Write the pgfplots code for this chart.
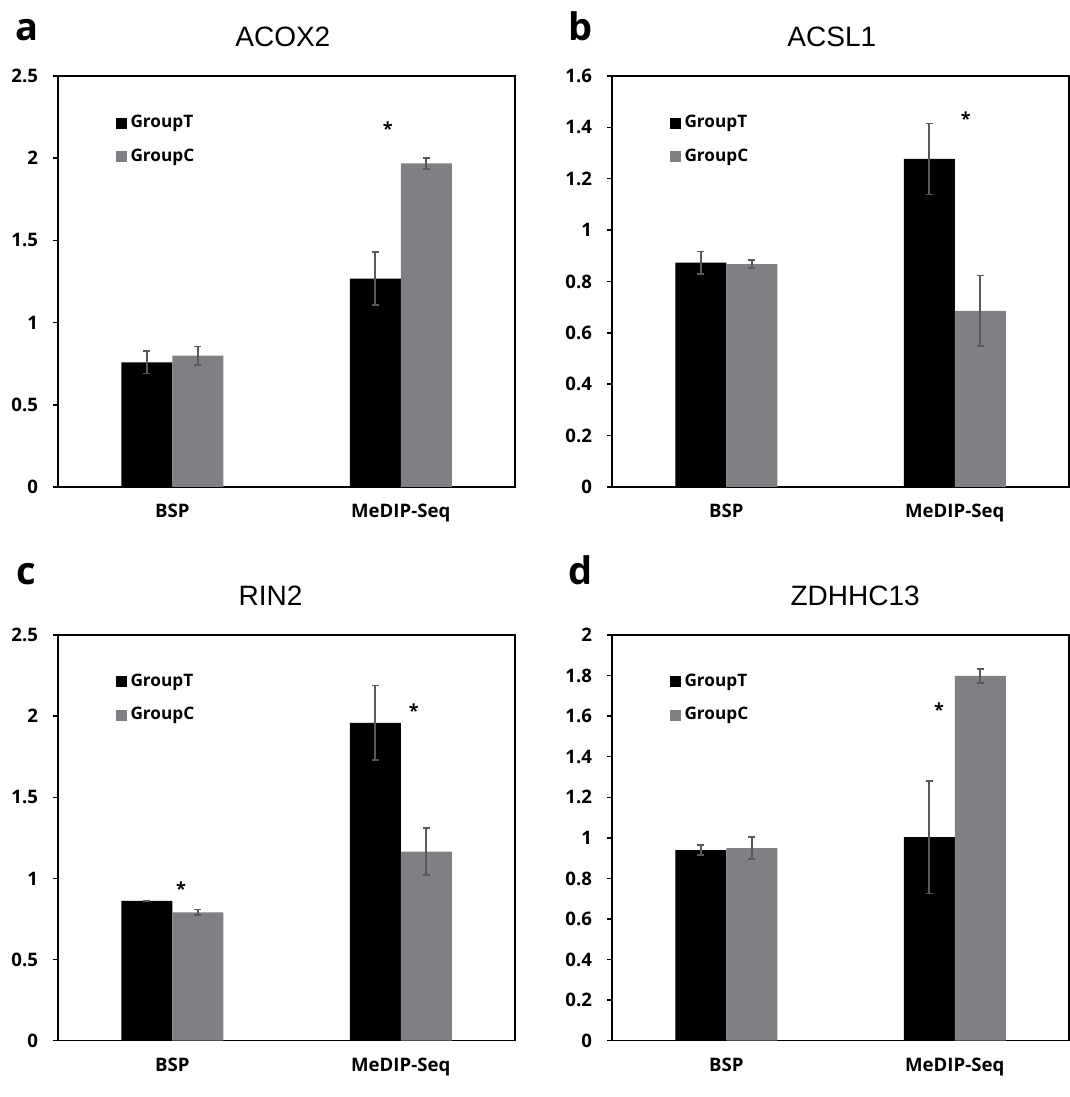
\documentclass[border=0pt]{standalone}
\usepackage{pgfplots}
\usepackage{pgfplotstable}
\pgfplotsset{compat=1.18}
\usepackage{fontspec}
\setmainfont{Open Sans}
\newfontfamily\arialfont{Liberation Sans}

\definecolor{grpC}{RGB}{128,128,132}
\definecolor{errc}{RGB}{89,89,89}

% mean and standard error for each gene
\pgfplotstableread{
x T Te C Ce
0 0.758 0.068 0.799 0.055
1 1.267 0.160 1.969 0.033
}\acoxtwo
\pgfplotstableread{
x T Te C Ce
0 0.873 0.044 0.868 0.016
1 1.277 0.138 0.686 0.137
}\acslone
\pgfplotstableread{
x T Te C Ce
0 0.861 0.003 0.791 0.017
1 1.959 0.230 1.165 0.146
}\rintwo
\pgfplotstableread{
x T Te C Ce
0 0.940 0.025 0.949 0.055
1 1.004 0.278 1.798 0.035
}\zdhhc

\tikzset{
  sigstar/.style={font=\bfseries\fontsize{9}{10}\selectfont},
  plabel/.style={anchor=base west, font=\bfseries\fontsize{19}{22}\selectfont, inner sep=0pt},
  gene/.style={anchor=base, inner sep=0pt, yshift=14.6pt, font=\arialfont\fontsize{14}{16}\selectfont},
}

\pgfplotsset{
  panel/.style={
    scale only axis, width=228.5pt, anchor=south west, clip=false,
    ybar=0pt, bar width=25.5pt,
    xmin=-0.5, xmax=1.5, xtick={0,1}, xticklabels={BSP,MeDIP-Seq},
    ymin=0,
    axis line style={line width=0.75pt},
    tick align=outside, ytick pos=left, xtick pos=bottom,
    major tick length=2.5pt,
    xtick style={draw=none},
    ytick style={line width=0.75pt, black},
    /pgf/number format/assume math mode=true,
    /pgf/number format/fixed,
    tick label style={font=\bfseries\fontsize{9.3}{11}\selectfont},
    yticklabel style={xshift=-4pt},
    xticklabel style={anchor=base, yshift=-13pt},
    legend style={draw=none, fill=none, at={(rel axis cs:0.125,0.915)}, anchor=north west,
      font=\bfseries\fontsize{8.6}{10}\selectfont, row sep=5pt, inner sep=0pt},
    legend cell align=left,
  },
  barT/.style={fill=black, draw=none,
    legend image code/.code={\fill[black] (0pt,-2.75pt) rectangle (5.5pt,2.75pt);},
    error bars/.cd, y dir=both, y explicit,
    error bar style={line width=0.9pt, color=errc},
    error mark options={rotate=90, mark size=1.75pt, line width=0.9pt, color=errc}},
  barC/.style={fill=grpC, draw=none,
    legend image code/.code={\fill[grpC] (0pt,-2.75pt) rectangle (5.5pt,2.75pt);},
    error bars/.cd, y dir=both, y explicit,
    error bar style={line width=0.9pt, color=errc},
    error mark options={rotate=90, mark size=1.75pt, line width=0.9pt, color=errc}},
}

\begin{document}
\begin{tikzpicture}
\useasboundingbox (0,0) rectangle (535pt,548.5pt);

% a: ACOX2
\begin{axis}[panel, at={(29pt,305pt)}, height=205.5pt, ymax=2.5,
  ytick={0,0.5,1,1.5,2,2.5}]
\addplot[barT] table[x=x, y=T, y error=Te] {\acoxtwo};
\addplot[barC] table[x=x, y=C, y error=Ce] {\acoxtwo};
\legend{GroupT,GroupC}
\node[sigstar] at (axis cs:0.943,2.18) {*};
\node[gene] at (rel axis cs:0.492,1) {ACOX2};
\end{axis}

% b: ACSL1
\begin{axis}[panel, at={(306pt,305pt)}, height=205.5pt, ymax=1.6,
  ytick={0,0.2,...,1.6}]
\addplot[barT] table[x=x, y=T, y error=Te] {\acslone};
\addplot[barC] table[x=x, y=C, y error=Ce] {\acslone};
\legend{GroupT,GroupC}
\node[sigstar] at (axis cs:1.048,1.435) {*};
\node[gene] at (rel axis cs:0.481,1) {ACSL1};
\end{axis}

% c: RIN2
\begin{axis}[panel, at={(29pt,28.15pt)}, height=202.85pt, ymax=2.5,
  ytick={0,0.5,1,1.5,2,2.5}]
\addplot[barT] table[x=x, y=T, y error=Te] {\rintwo};
\addplot[barC] table[x=x, y=C, y error=Ce] {\rintwo};
\legend{GroupT,GroupC}
\node[sigstar] at (axis cs:0.038,0.939) {*};
\node[sigstar] at (axis cs:1.057,2.033) {*};
\node[gene] at (rel axis cs:0.465,1) {RIN2};
\end{axis}

% d: ZDHHC13
\begin{axis}[panel, at={(306pt,28.15pt)}, height=202.85pt, ymax=2,
  ytick={0,0.2,...,2}]
\addplot[barT] table[x=x, y=T, y error=Te] {\zdhhc};
\addplot[barC] table[x=x, y=C, y error=Ce] {\zdhhc};
\legend{GroupT,GroupC}
\node[sigstar] at (axis cs:0.931,1.631) {*};
\node[gene] at (rel axis cs:0.532,1) {ZDHHC13};
\end{axis}

% panel letters
\node[plabel] at (7.8pt,528pt) {a};
\node[plabel] at (284pt,528pt) {b};
\node[plabel] at (8pt,256pt) {c};
\node[plabel] at (284pt,256pt) {d};
\end{tikzpicture}
\end{document}
